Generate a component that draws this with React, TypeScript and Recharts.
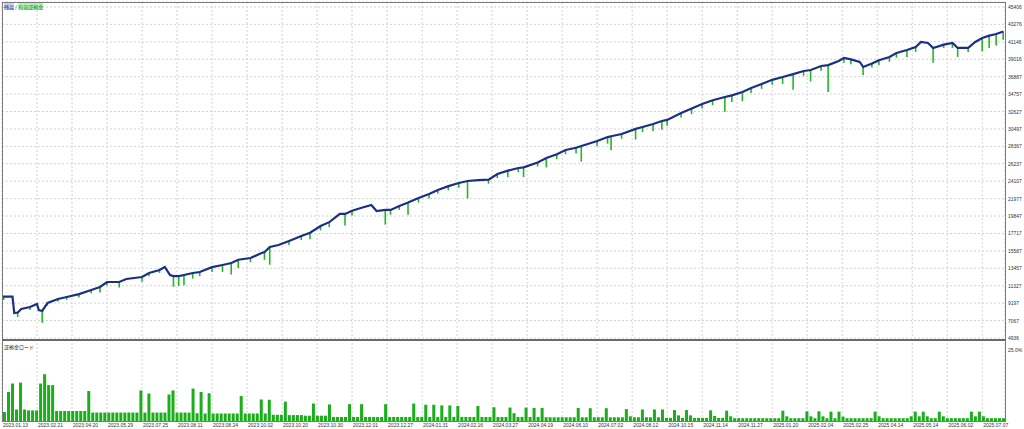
import { Bar, CartesianGrid, ComposedChart, Line, XAxis, YAxis } from "recharts";

const TOTAL_TRADES = 573;
const LOAD_BUCKETS = 250;

const dateLabels = [
  "2023.01.13", "2023.02.21", "2023.04.20", "2023.05.29", "2023.07.25", "2023.08.11",
  "2023.08.24", "2023.10.02", "2023.10.20", "2023.10.30", "2023.12.01", "2023.12.27",
  "2024.01.31", "2024.02.16", "2024.03.27", "2024.04.19", "2024.06.10", "2024.07.02",
  "2024.08.12", "2024.10.15", "2024.11.14", "2024.11.27", "2025.01.20", "2025.02.04",
  "2025.02.25", "2025.04.14", "2025.05.14", "2025.06.02", "2025.07.07",
];
const tradeTicks = dateLabels.map((_, i) => i * 20);

const balanceTicks = [
  4936, 7067, 9197, 11327, 13457, 15587, 17717, 19847, 21977, 24107, 26237, 28367, 30497,
  32627, 34757, 36887, 39016, 41146, 43276, 45406,
];

// trade number, balance after it, lowest equity around it
const tradeNo = [
  0, 1, 6, 7, 9, 11, 16, 20, 21, 23, 26, 32, 37, 44, 51, 56, 60, 67, 71, 80, 84, 90, 93, 96,
  98, 101, 104, 109, 113, 120, 126, 131, 135, 142, 148, 150, 153, 158, 164, 171, 176, 182,
  187, 193, 196, 200, 205, 211, 214, 219, 222, 227, 232, 238, 244, 249, 255, 261, 266, 272,
  278, 283, 289, 295, 298, 306, 311, 317, 322, 328, 331, 340, 346, 348, 354, 362, 366, 372,
  377, 380, 388, 394, 400, 406, 413, 417, 423, 428, 434, 440, 446, 452, 458, 462, 468, 472,
  478, 481, 485, 490, 492, 497, 501, 507, 511, 517, 522, 525, 529, 532, 538, 543, 546, 552,
  556, 560, 564, 568, 572,
];
const balance = [
  10000, 10000, 10000, 7990, 8050, 8480, 8730, 9090, 8360, 8240, 9220, 9700, 9950, 10300,
  10800, 11170, 11780, 11780, 12150, 12390, 12880, 13250, 13620, 12640, 12500, 12500, 12640,
  12880, 13000, 13600, 13860, 14100, 14500, 14720, 15300, 15450, 16060, 16300, 16800, 17400,
  17800, 18630, 19100, 20100, 20100, 20500, 20830, 21200, 20460, 20590, 20600, 21080, 21500,
  22050, 22550, 23030, 23500, 23890, 24130, 24250, 24300, 24990, 25400, 25720, 25800, 26400,
  26950, 27400, 27920, 28200, 28410, 29020, 29500, 29600, 29880, 30500, 30740, 31100, 31470,
  31600, 32450, 33000, 33550, 34000, 34400, 34600, 35010, 35500, 36000, 36500, 36850, 37200,
  37580, 37700, 38190, 38300, 38800, 39170, 39000, 38700, 38070, 38500, 38900, 39300, 39780,
  40150, 40520, 41130, 41000, 40400, 40800, 41010, 40400, 40400, 41130, 41620, 41900, 42100,
  42400,
];
const equityLow = [
  10000, 9580, 10000, 7990, 7500, 8480, 8360, 9090, 8360, 6800, 8900, 9400, 9600, 9900,
  10400, 10500, 11400, 11100, 12150, 11800, 12500, 12900, 13620, 12640, 11200, 11300, 11400,
  12200, 12500, 13000, 13000, 12700, 13500, 14200, 15300, 14500, 13900, 16300, 16300, 16900,
  17000, 18100, 18500, 20100, 18700, 19900, 20830, 21200, 20460, 18800, 20000, 20600, 20000,
  21500, 22000, 22600, 23000, 23300, 22000, 24250, 23800, 24500, 24600, 25200, 24600, 25900,
  25800, 26800, 27400, 27500, 26500, 28400, 28700, 27900, 29300, 29200, 30100, 30200, 30400,
  30900, 31900, 32300, 33000, 33400, 32600, 33800, 33900, 34900, 35400, 35900, 36000, 35300,
  37000, 36300, 37600, 35000, 38800, 38600, 38400, 38700, 37100, 38000, 38300, 38700, 39200,
  39300, 39900, 41130, 41000, 38600, 40400, 40400, 39300, 39900, 41130, 40000, 40400, 40700,
  41400,
];

// deposit load %, one bar per bucket of trades
const depositLoad = [
  2.9, 9.3, 12.0, 3.7, 12.3, 3.7, 3.4, 3.4, 3.4, 12.0, 15.0, 11.5, 11.5, 3.2, 3.2, 3.2, 3.2, 3.2, 3.2, 3.2, 3.2, 9.6, 2.7, 2.7, 2.7,
  2.7, 2.7, 2.7, 2.7, 2.7, 2.7, 2.7, 2.7, 2.7, 9.8, 2.7, 8.8, 2.7, 2.7, 2.7, 2.7, 8.5, 9.8, 2.7, 2.7, 2.7, 2.7, 10.4, 2.5, 9.3,
  2.4, 8.9, 2.4, 2.4, 2.4, 2.4, 2.4, 2.4, 2.4, 8.0, 2.4, 2.4, 2.4, 2.4, 6.9, 2.4, 6.8, 2.0, 2.0, 2.0, 6.2, 1.9, 1.9, 1.9, 1.9,
  1.7, 1.7, 5.6, 1.7, 1.7, 1.7, 5.3, 1.3, 1.3, 1.3, 1.3, 5.4, 1.3, 1.3, 5.4, 1.3, 1.3, 1.3, 1.3, 1.3, 5.4, 1.3, 1.3, 1.3, 1.3,
  1.3, 1.3, 5.6, 1.3, 1.3, 5.2, 1.3, 5.2, 1.3, 5.0, 1.3, 5.0, 1.3, 4.8, 1.3, 1.3, 1.3, 1.3, 4.8, 1.3, 1.3, 1.3, 4.4, 1.3, 1.3,
  1.3, 4.3, 2.5, 1.3, 1.3, 4.3, 1.3, 4.2, 1.3, 4.2, 1.2, 1.2, 1.2, 1.2, 1.2, 1.2, 1.2, 1.2, 4.2, 1.2, 1.2, 4.1, 1.2, 1.2, 1.2,
  4.1, 1.2, 1.2, 1.2, 1.2, 3.8, 1.5, 1.2, 1.2, 3.7, 1.2, 1.2, 3.7, 1.2, 3.7, 1.0, 1.0, 3.5, 1.8, 1.0, 3.5, 1.8, 1.0, 1.0, 1.0,
  1.0, 3.4, 1.6, 1.0, 1.0, 3.3, 1.5, 0.9, 0.9, 0.9, 0.9, 0.9, 0.9, 0.9, 0.9, 0.9, 0.9, 0.9, 0.9, 3.3, 1.5, 0.9, 0.9, 0.9, 0.9,
  3.1, 1.5, 0.9, 3.1, 1.5, 0.9, 3.0, 0.9, 3.0, 1.4, 0.9, 0.9, 0.9, 0.9, 0.9, 0.9, 0.9, 3.0, 1.5, 0.9, 0.9, 0.9, 0.9, 0.9, 0.9,
  0.9, 1.5, 3.0, 1.5, 3.0, 1.5, 0.9, 0.9, 3.0, 1.5, 0.9, 0.9, 0.9, 0.9, 0.9, 0.9, 3.0, 1.5, 3.0, 1.5, 0.9, 0.9, 0.9, 0.9, 0.9,
];

const curveData = tradeNo.map((t, i) => ({
  t,
  balance: balance[i],
  dip: equityLow[i] < balance[i] ? [equityLow[i], balance[i]] : null,
}));

const loadData = depositLoad.map((load, i) => ({
  t: ((i + 0.5) * TOTAL_TRADES) / LOAD_BUCKETS,
  load,
}));

const FONT = "'Liberation Sans', Arial, sans-serif";
const GRID = "#d2d2d2";
const FRAME = "#7a7a7a";

const RightTick = (props: any) => {
  const { x, y, payload, percent } = props;
  const label = percent ? `${Number(payload.value).toFixed(1)}%` : String(payload.value);
  return (
    <text x={x + 3} y={y + 2} fontSize={5} fill="#333" fontFamily={FONT} textAnchor="start">
      {label}
    </text>
  );
};

const DateTick = (props: any) => {
  const { x, y, payload } = props;
  const idx = tradeTicks.indexOf(payload.value);
  return (
    <text x={x + 1} y={y + 6} fontSize={5} fill="#333" fontFamily={FONT} textAnchor="start">
      {dateLabels[idx] ?? ""}
    </text>
  );
};

const NoTick = () => <g />;

const line = (style: React.CSSProperties) => (
  <div style={{ position: "absolute", background: FRAME, ...style }} />
);

export default function App() {
  return (
    <div
      style={{
        position: "absolute",
        left: 0,
        top: 0,
        width: 1024,
        height: 429,
        background: "#fff",
        overflow: "hidden",
        fontFamily: FONT,
      }}
    >
      <div style={{ position: "absolute", left: 0, top: 0 }}>
        <ComposedChart
          width={1024}
          height={340}
          data={curveData}
          margin={{ top: 2, right: 0, bottom: 2, left: 2 }}
        >
          <CartesianGrid stroke={GRID} strokeDasharray="2 2" />
          <XAxis
            type="number"
            dataKey="t"
            domain={[0, TOTAL_TRADES]}
            ticks={tradeTicks}
            tick={<NoTick />}
            tickLine={false}
            axisLine={false}
            tickSize={0}
            height={0}
            interval={0}
            allowDataOverflow
          />
          <YAxis
            orientation="right"
            width={19}
            domain={[4936, 46017]}
            ticks={balanceTicks}
            tick={<RightTick />}
            tickLine={false}
            axisLine={false}
            tickSize={0}
            tickMargin={0}
            allowDataOverflow
            interval={0}
          />
          <Bar dataKey="dip" fill="#1fb81f" barSize={2} isAnimationActive={false} />
          <Line
            type="linear"
            dataKey="balance"
            stroke="#1c2f86"
            strokeWidth={2.2}
            dot={false}
            isAnimationActive={false}
          />
        </ComposedChart>
      </div>

      <div style={{ position: "absolute", left: 0, top: 341 }}>
        <ComposedChart
          width={1024}
          height={88}
          data={loadData}
          margin={{ top: 2, right: 0, bottom: 0, left: 2 }}
        >
          <CartesianGrid stroke={GRID} strokeDasharray="2 2" horizontal={false} />
          <XAxis
            type="number"
            dataKey="t"
            domain={[0, TOTAL_TRADES]}
            ticks={tradeTicks}
            tick={<DateTick />}
            tickLine={false}
            axisLine={false}
            tickSize={0}
            tickMargin={0}
            height={8}
            interval={0}
            allowDataOverflow
          />
          <YAxis
            orientation="right"
            width={19}
            domain={[0, 25]}
            ticks={[0, 25]}
            tick={<RightTick percent />}
            tickLine={false}
            axisLine={false}
            tickSize={0}
            tickMargin={0}
            allowDataOverflow
          />
          <Bar dataKey="load" fill="#1aae1a" barSize={3} isAnimationActive={false} />
        </ComposedChart>
      </div>

      {line({ left: 2, top: 2, width: 1003, height: 1 })}
      {line({ left: 2, top: 2, width: 1, height: 419 })}
      {line({ left: 1005, top: 2, width: 1, height: 419 })}
      {line({ left: 2, top: 339, width: 1004, height: 2, background: "#6a6a6a" })}
      {line({ left: 2, top: 421, width: 1004, height: 1 })}

      <div
        style={{
          position: "absolute",
          left: 4,
          top: 3,
          fontSize: 5,
          lineHeight: "7px",
          fontFamily: "'Noto Sans CJK JP', sans-serif",
          whiteSpace: "nowrap",
        }}
      >
        <span style={{ color: "#1c2f86", background: "#c9d2f4" }}>残高</span>
        <span style={{ color: "#333" }}> / </span>
        <span style={{ color: "#138a13", background: "#b4efb4" }}>有効証拠金</span>
      </div>
      <div
        style={{
          position: "absolute",
          left: 4,
          top: 343,
          fontSize: 5,
          lineHeight: "7px",
          color: "#222",
          fontFamily: "'Noto Sans CJK JP', sans-serif",
          whiteSpace: "nowrap",
        }}
      >
        証拠金ロード
      </div>
    </div>
  );
}
